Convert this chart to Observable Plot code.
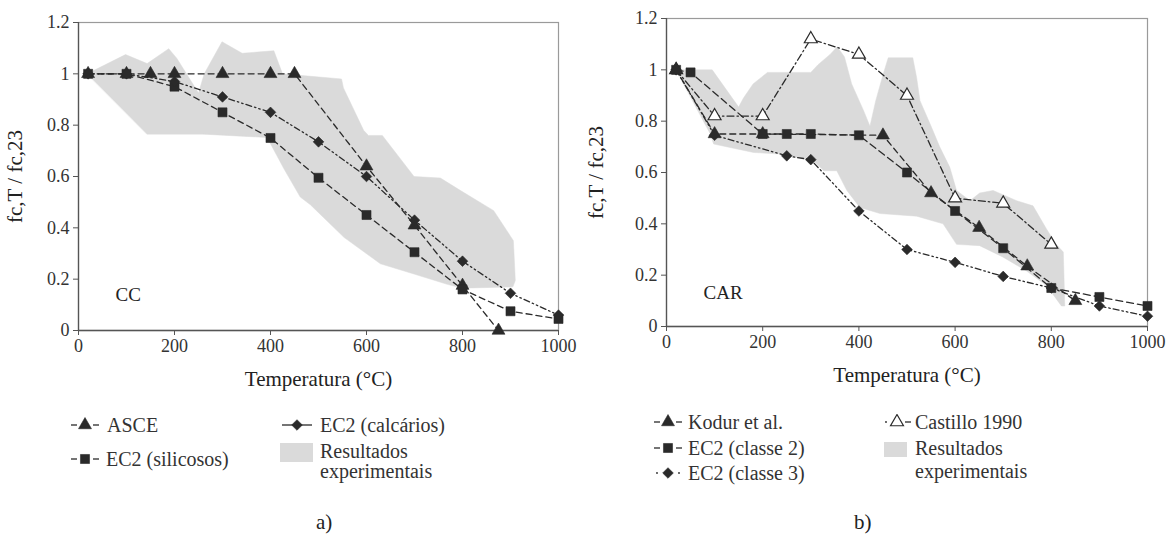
<!DOCTYPE html>
<html><head><meta charset="utf-8">
<script src="https://cdn.jsdelivr.net/npm/d3@7"></script>
<script src="https://cdn.jsdelivr.net/npm/@observablehq/plot@0.6"></script>
<style>
html,body{margin:0;padding:0;background:#fff}
#wrap{position:relative;width:1169px;height:536px;overflow:hidden;font-family:"Liberation Serif","Times New Roman",serif;color:#333}
.chart{position:absolute;top:0}
.lt{position:absolute;font-size:20px;line-height:20px;white-space:nowrap;color:#333}
.gl{position:absolute}
.cap{position:absolute;font-size:21px;line-height:22px;color:#222}
</style></head>
<body><div id="wrap"></div>
<script>
// ---------- data: panel a) CC ----------
const tempA_ASCE = [20,100,150,200,300,400,450,600,700,800,875];
const valA_ASCE  = [1,1,1,1,1,1,1,0.64,0.41,0.175,0];
const tempA_EC2  = [20,100,200,300,400,500,600,700,800,900,1000];
const valA_Sil   = [1,1,0.95,0.85,0.75,0.595,0.45,0.305,0.16,0.075,0.045];
const valA_Calc  = [1,1,0.97,0.91,0.85,0.735,0.6,0.43,0.27,0.145,0.06];
const expA_x = [18,98,143,188,205,250,262,299,341,407,425,548,552,594,604,633,699,754,796,865,906,910,
                905,800,768,699,629,553,483,462,428,393,260,143];
const expA_y = [1.0,1.075,1.04,1.098,1.06,0.925,1.0,1.125,1.08,1.09,1.0,0.98,0.945,0.78,0.76,0.76,0.60,0.594,0.545,0.467,0.35,0.195,
                0.17,0.165,0.18,0.22,0.26,0.363,0.49,0.52,0.63,0.752,0.765,0.765];
const labelA = ["CC"];
const labelA_x = [77], labelA_y = [0.14];

// ---------- data: panel b) CAR ----------
const tempB_Kodur = [20,100,200,450,550,650,750,850];
const valB_Kodur  = [1,0.75,0.75,0.745,0.52,0.385,0.235,0.10];
const tempB_C2 = [20,50,200,250,300,400,500,600,700,800,900,1000];
const valB_C2  = [1,0.99,0.75,0.75,0.75,0.745,0.6,0.45,0.305,0.15,0.115,0.08];
const tempB_C3 = [20,100,250,300,400,500,600,700,800,900,1000];
const valB_C3  = [1,0.745,0.665,0.65,0.45,0.30,0.25,0.195,0.15,0.08,0.04];
const tempB_Cast = [20,100,200,300,400,500,600,700,800];
const valB_Cast  = [1,0.82,0.82,1.12,1.06,0.9,0.5,0.48,0.32];
const expB_x = [20,95,150,160,180,210,300,315,340,355,370,385,410,423,435,450,461,512,520,527,551,568,589,603,631,651,679,728,762,790,810,825,828,
                821,790,748,700,651,603,575,520,444,402,375,354,327,306,237,181,98,91];
const expB_y = [1.0,1.0,0.855,0.89,0.945,0.99,0.99,1.02,1.06,1.09,1.05,0.945,0.84,0.78,0.88,0.98,1.047,1.047,0.97,0.88,0.776,0.70,0.62,0.53,0.49,0.52,0.53,0.49,0.47,0.38,0.32,0.29,0.08,
                0.08,0.16,0.217,0.27,0.315,0.32,0.40,0.43,0.44,0.464,0.53,0.607,0.607,0.646,0.672,0.678,0.711,0.75];
const labelB = ["CAR"];
const labelB_x = [77], labelB_y = [0.13];

// ---------- axes ----------
const xTicks = [0,200,400,600,800,1000];
const yTicks = [0,0.2,0.4,0.6,0.8,1,1.2];
const xLabel = "Temperatura (°C)";
const yLabel = "fc,T / fc,23";

// ---------- legends ----------
const legA1 = ["ASCE","EC2 (silicosos)"];
const legA2 = ["EC2 (calcários)"];
const legB1 = ["Kodur et al.","EC2 (classe 2)","EC2 (classe 3)"];
const legB2 = ["Castillo 1990"];
const expLabel = ["Resultados","experimentais"];
const captions = ["a)","b)"];

const INK = "#2a2a2a";
const GREY = "#dadada";
const DASH = "6,4", DASH2 = "7,4", DDOT = "6,3,1.5,3,1.5,3", DDOT1 = "7,3,1.5,3";
const SZ = {triangle:4.8, square:5.1, diamond2:4.8};

function series(xs, ys, symbol, dash, open=false){
  return {data: d3.zip(xs, ys).map(([x,y])=>({x,y})), symbol, dash, open};
}
function panel(o){
  const exp = d3.zip(o.expX, o.expY).map(([x,y])=>({x,y}));
  const marks = [
    Plot.line(exp, {x:"x", y:"y", fill:GREY, stroke:GREY, strokeWidth:0.5, curve:"linear-closed"}),
    Plot.frame({stroke:"#9a9a9a", strokeWidth:1.2}),
    Plot.ruleX([0], {stroke:"#555", strokeWidth:1.3}),
    Plot.ruleY([0], {stroke:"#555", strokeWidth:1.3}),
  ];
  for (const s of o.series) {
    marks.push(Plot.line(s.data, {x:"x", y:"y", stroke:INK, strokeWidth:1.3, strokeDasharray:s.dash}));
  }
  for (const s of o.series) {
    marks.push(Plot.dot(s.data, {x:"x", y:"y", symbol:s.symbol, r:SZ[s.symbol],
      fill: s.open ? "white" : INK, stroke: INK, strokeWidth: s.open ? 1.2 : 0.6}));
  }
  marks.push(Plot.text(o.label.map((t,i)=>({t, x:o.labelX[i], y:o.labelY[i]})),
    {x:"x", y:"y", text:"t", textAnchor:"start", fontSize:19, fill:"#222"}));
  marks.push(Plot.axisX({ticks:xTicks, tickFormat:d3.format("d"), tickSize:5, tickPadding:4, stroke:"#555", fill:"#333", label:null, fontSize:18}));
  marks.push(Plot.axisY({ticks:yTicks, tickFormat:d3.format("~g"), tickSize:5, tickPadding:4, stroke:"#555", fill:"#333", label:null, fontSize:18}));
  marks.push(Plot.axisX({ticks:[], label:xLabel, labelAnchor:"center", labelArrow:"none", labelOffset:o.xOff, fontSize:21, fill:"#222"}));
  marks.push(Plot.axisY({ticks:[], label:yLabel, labelAnchor:"center", labelArrow:"none", labelOffset:o.yOff, fontSize:21, fill:"#222"}));
  return Plot.plot({
    width:o.w, height:o.h,
    marginLeft:o.ml, marginRight:o.mr, marginTop:o.mt, marginBottom:o.mb,
    x:{domain:[0,1000]}, y:{domain:[0,1.2]},
    style:{fontFamily:'"Liberation Serif","Times New Roman",serif', background:"transparent", overflow:"visible"},
    marks
  });
}

const wrap = document.getElementById("wrap");

const a = panel({
  w:580, h:395, ml:78, mr:22, mt:22, mb:65, xOff:55, yOff:71,
  expX:expA_x, expY:expA_y, label:labelA, labelX:labelA_x, labelY:labelA_y,
  series:[
    series(tempA_ASCE, valA_ASCE, "triangle", DASH),
    series(tempA_EC2, valA_Sil, "square", DASH),
    series(tempA_EC2, valA_Calc, "diamond2", DDOT),
  ]
});
a.classList.add("chart"); a.style.left="0px"; wrap.appendChild(a);

const b = panel({
  w:589, h:395, ml:86, mr:22, mt:18, mb:69, xOff:55, yOff:78,
  expX:expB_x, expY:expB_y, label:labelB, labelX:labelB_x, labelY:labelB_y,
  series:[
    series(tempB_Cast, valB_Cast, "triangle", DDOT1, true),
    series(tempB_C3, valB_C3, "diamond2", DDOT),
    series(tempB_C2, valB_C2, "square", DASH2),
    series(tempB_Kodur, valB_Kodur, "triangle", DASH),
  ]
});
b.classList.add("chart"); b.style.left="580px"; wrap.appendChild(b);

// ---------- legend helpers ----------
const symPath = {
  triangle: d3.symbol(d3.symbolTriangle, Math.PI*SZ.triangle**2)(),
  square: d3.symbol(d3.symbolSquare, Math.PI*SZ.square**2)(),
  diamond2: d3.symbol(d3.symbolDiamond2, Math.PI*SZ.diamond2**2)(),
};
function glyph(x, yc, symbol, left, right, open=false){
  const w = 30, h = 16;
  const seg = (x0,x1,kind) => kind==="dot"
    ? `<circle cx="${(x0+x1)/2}" cy="8" r="0.9" fill="${INK}"/>`
    : `<line x1="${x0}" x2="${x1}" y1="8" y2="8" stroke="${INK}" stroke-width="1.3"/>`;
  const s = `<svg class="gl" width="${w}" height="${h}" style="left:${x}px;top:${yc-h/2}px">`
    + seg(left==="solid"?0:1, left==="solid"?15:7, left)
    + seg(right==="solid"?15:23, right==="solid"?30:29, right)
    + `<path transform="translate(15,8)" d="${symPath[symbol]}" fill="${open?"white":INK}" stroke="${INK}" stroke-width="${open?1.2:0.6}"/>`
    + `</svg>`;
  wrap.insertAdjacentHTML("beforeend", s);
}
function text(x, yc, t, cls="lt"){
  wrap.insertAdjacentHTML("beforeend", `<div class="${cls}" style="left:${x}px;top:${yc-10}px">${t}</div>`);
}
function swatch(x, y, w, h){
  wrap.insertAdjacentHTML("beforeend", `<div style="position:absolute;left:${x}px;top:${y}px;width:${w}px;height:${h}px;background:${GREY}"></div>`);
}

// legend a)
glyph(70, 425, "triangle", "dash", "dash"); text(107, 425, legA1[0]);
glyph(70, 459, "square", "dash", "dash");   text(106, 459, legA1[1]);
glyph(282, 425, "diamond2", "solid", "solid"); text(320, 425, legA2[0]);
swatch(280, 443, 33, 19);
text(320, 451, expLabel[0]); text(320, 471, expLabel[1]);

// legend b)
glyph(653, 422, "triangle", "dash", "dash"); text(688, 422, legB1[0]);
glyph(653, 448, "square", "dash", "dash");   text(688, 448, legB1[1]);
glyph(653, 473, "diamond2", "dot", "dot");   text(688, 473, legB1[2]);
glyph(882, 422, "triangle", "dot", "dash", true); text(915, 422, legB2[0]);
swatch(884, 442, 23, 15);
text(915, 448, expLabel[0]); text(915, 471, expLabel[1]);

// captions
wrap.insertAdjacentHTML("beforeend", `<div class="cap" style="left:316px;top:511px">${captions[0]}</div>`);
wrap.insertAdjacentHTML("beforeend", `<div class="cap" style="left:854px;top:511px">${captions[1]}</div>`);
</script>
</body></html>
